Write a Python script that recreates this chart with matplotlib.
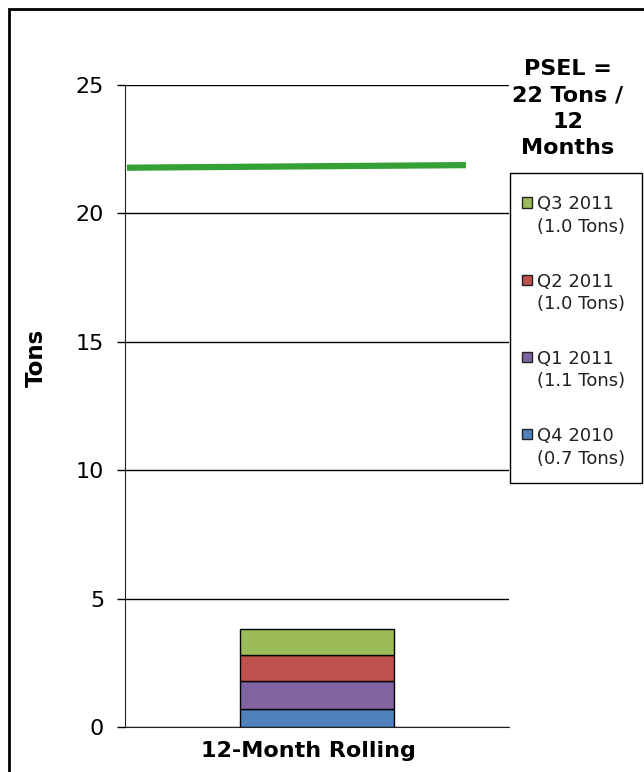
import numpy as np
import matplotlib
matplotlib.use("Agg")
import matplotlib.pyplot as plt
import matplotlib.transforms as mtransforms
from matplotlib.patches import Rectangle

# quarterly emissions stacked into one rolling 12-month total
quarters = ["Q4 2010", "Q1 2011", "Q2 2011", "Q3 2011"]
tons = [0.7, 1.1, 1.0, 1.0]
colors = ["#4F81BD", "#8064A2", "#C0504D", "#9BBB59"]
category = ["12-Month Rolling"]

# permit limit line (PSEL)
psel_x = [-0.495, 0.388]
psel_y = [21.78, 21.88]

plt.rcParams['font.family'] = ['DejaVu Sans']

W, H = 644, 772
fig = plt.figure(figsize=(W / 100, H / 100), dpi=100)
ax = fig.add_axes([125 / W, 1 - 727 / H, 384 / W, 642 / H])


def px(x, y):
    # pixel position (from top-left) to figure fraction
    return x / W, 1 - y / H


x = np.arange(len(category))
bottom = np.zeros(len(category))
for q, t, c in zip(quarters, tons, colors):
    ax.bar(x, [t], width=0.4, bottom=bottom, color=c, edgecolor="black",
           linewidth=1, zorder=3)
    bottom += t

ax.plot(psel_x, psel_y, color="#35A035", linewidth=4.5, solid_capstyle="butt", zorder=4)

ax.set_xlim(-0.5, 0.5)
ax.set_ylim(0, 25)
ax.set_yticks([0, 5, 10, 15, 20, 25])
ax.set_xticks(x)
ax.set_xticklabels(category, fontsize=16, fontweight="bold")
ax.tick_params(axis="x", length=0, pad=10)
ax.tick_params(axis="y", length=6, width=1, labelsize=16, pad=9, direction="out")
shift = mtransforms.ScaledTranslation(-9 / 100, 0, fig.dpi_scale_trans)
for lab in ax.get_xticklabels():
    lab.set_transform(lab.get_transform() + shift)
ax.yaxis.grid(True, color="black", linewidth=1)
ax.set_axisbelow(True)
for s in ["top", "right"]:
    ax.spines[s].set_visible(False)
ax.spines["left"].set_color("#222222")
ax.spines["bottom"].set_color("#222222")

ax.set_ylabel("Tons", fontsize=16.5, fontweight="bold")
ax.yaxis.set_label_coords(-0.200, 0.575)

fig.text(*px(568, 59), "PSEL =\n22 Tons /\n12\nMonths", ha="center", va="top",
         fontsize=16, fontweight="bold", linespacing=1.4)

# legend box, newest quarter on top
fig.patches.append(Rectangle(px(510, 483), 132 / W, 310 / H, transform=fig.transFigure,
                             facecolor="white", edgecolor="black", linewidth=1))
for i, (q, t, c) in enumerate(reversed(list(zip(quarters, tons, colors)))):
    y0 = 208 + 77.3 * i
    fig.patches.append(Rectangle(px(522, y0 - 0.5), 10 / W, 10 / H, transform=fig.transFigure,
                                 facecolor=c, edgecolor="#222222", linewidth=1))
    fig.text(*px(537, y0 + 23.7), f"{q}\n({t:.1f} Tons)", ha="left", va="baseline",
             multialignment="left", fontsize=13, color="#222222", linespacing=1.3)

# outer chart frame
fig.patches.append(Rectangle((9 / W, -0.05), 1.1, 1.05 - 9 / H, transform=fig.transFigure,
                             fill=False, edgecolor="black", linewidth=2, clip_on=False))

fig.savefig("out.png", dpi=100)
